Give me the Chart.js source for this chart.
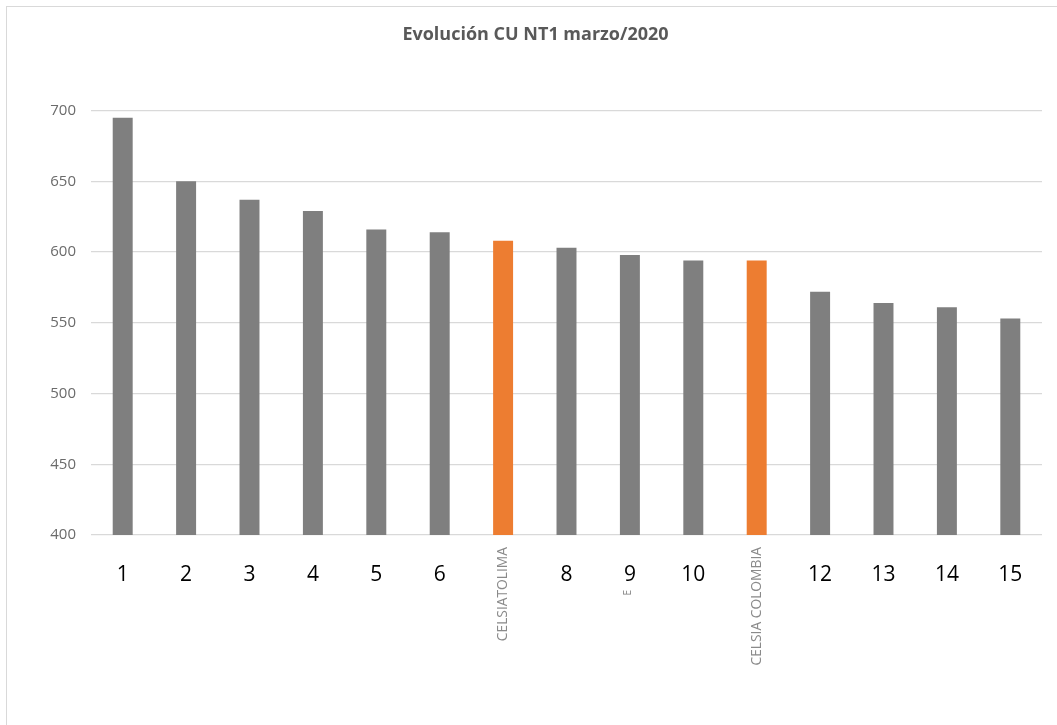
<!DOCTYPE html>
<html>
<head>
<meta charset="utf-8">
<title>Evolución CU NT1 marzo/2020</title>
<script src="https://cdn.jsdelivr.net/npm/chart.js@4/dist/chart.umd.min.js"></script>
<style>
  html, body { margin: 0; padding: 0; background: #fff; overflow: hidden; }
  #marco {
    position: absolute; left: 6px; top: 6px;
    width: 1058px; height: 720px;
    border-left: 1px solid #d9d9d9; border-top: 1px solid #d9d9d9;
  }
</style>
</head>
<body>
<div id="marco"><canvas id="cu-nt1" width="1058" height="720"></canvas></div>
<script>
// datos
const etiquetas = ['1', '2', '3', '4', '5', '6', 'CELSIATOLIMA', '8', '9', '10', 'CELSIA COLOMBIA', '12', '13', '14', '15'];
const subEtiquetas = ['', '', '', '', '', '', '', '', 'E', '', '', '', '', '', ''];
const valoresCU = [695, 650, 637, 629, 616, 614, 608, 603, 598, 594, 594, 572, 564, 561, 553];
const resaltados = ['CELSIATOLIMA', 'CELSIA COLOMBIA'];
const ticksY = [400, 450, 500, 550, 600, 650, 700];

const GRIS = '#7f7f7f';
const NARANJA = '#ed7d31';
const fuente = '"Open Sans", "Noto Sans", sans-serif';

// colores de barra segun la etiqueta
const coloresBarra = etiquetas.map(function (e) {
    return resaltados.includes(e) ? NARANJA : GRIS;
});

// dibuja las etiquetas del eje x (numeros grandes y nombres verticales)
const etiquetasX = {
    id: 'etiquetasX',
    afterDraw(chart) {
        const ctx = chart.ctx;
        const x = chart.scales.x;
        const base = chart.chartArea.bottom;
        ctx.save();
        etiquetas.forEach(function (txt, i) {
            const px = x.getPixelForValue(i);
            if (isNaN(Number(txt))) {
                ctx.save();
                ctx.translate(px, base + 12);
                ctx.rotate(-Math.PI / 2);
                ctx.font = '13.8px ' + fuente;
                ctx.fillStyle = '#8a8a8a';
                ctx.textAlign = 'right';
                ctx.textBaseline = 'middle';
                ctx.fillText(txt, 0, 0);
                ctx.restore();
            } else {
                ctx.font = '21px ' + fuente;
                ctx.fillStyle = '#000';
                ctx.textAlign = 'center';
                ctx.textBaseline = 'middle';
                ctx.fillText(txt, px, base + 40);
            }
            if (subEtiquetas[i]) {
                ctx.save();
                ctx.translate(px - 2, base + 55);
                ctx.rotate(-Math.PI / 2);
                ctx.font = '10px ' + fuente;
                ctx.fillStyle = GRIS;
                ctx.textAlign = 'right';
                ctx.textBaseline = 'middle';
                ctx.fillText(subEtiquetas[i], 0, 0);
                ctx.restore();
            }
        });
        ctx.restore();
    }
};

new Chart(document.getElementById('cu-nt1'), {
    type: 'bar',
    data: {
        labels: etiquetas,
        datasets: [{
            label: 'CU NT1',
            data: valoresCU,
            backgroundColor: coloresBarra,
            borderWidth: 0,
            categoryPercentage: 1,
            barPercentage: 0.315
        }]
    },
    options: {
        responsive: false,
        animation: false,
        layout: { padding: { left: 22, right: 23, top: 0, bottom: 192 } },
        plugins: {
            legend: { display: false },
            tooltip: { enabled: false },
            title: {
                display: true,
                text: 'Evolución CU NT1 marzo/2020',
                color: '#595959',
                font: { family: fuente, size: 18, weight: 'bold' },
                padding: { top: 17, bottom: 65 }
            }
        },
        scales: {
            x: {
                ticks: { display: false },
                grid: { display: false, drawTicks: false },
                border: { display: false },
                afterFit: function (s) { s.height = 0; }
            },
            y: {
                min: ticksY[0],
                max: ticksY[ticksY.length - 1],
                afterBuildTicks: function (s) {
                    s.ticks = ticksY.map(function (v) { return { value: v }; });
                },
                afterFit: function (s) { s.width = 62; },
                ticks: {
                    color: '#6b6b6b',
                    padding: 15,
                    font: { family: fuente, size: 15 }
                },
                grid: { color: '#d9d9d9', lineWidth: 1.3, drawTicks: false },
                border: { display: false }
            }
        }
    },
    plugins: [etiquetasX]
});
</script>
</body>
</html>
